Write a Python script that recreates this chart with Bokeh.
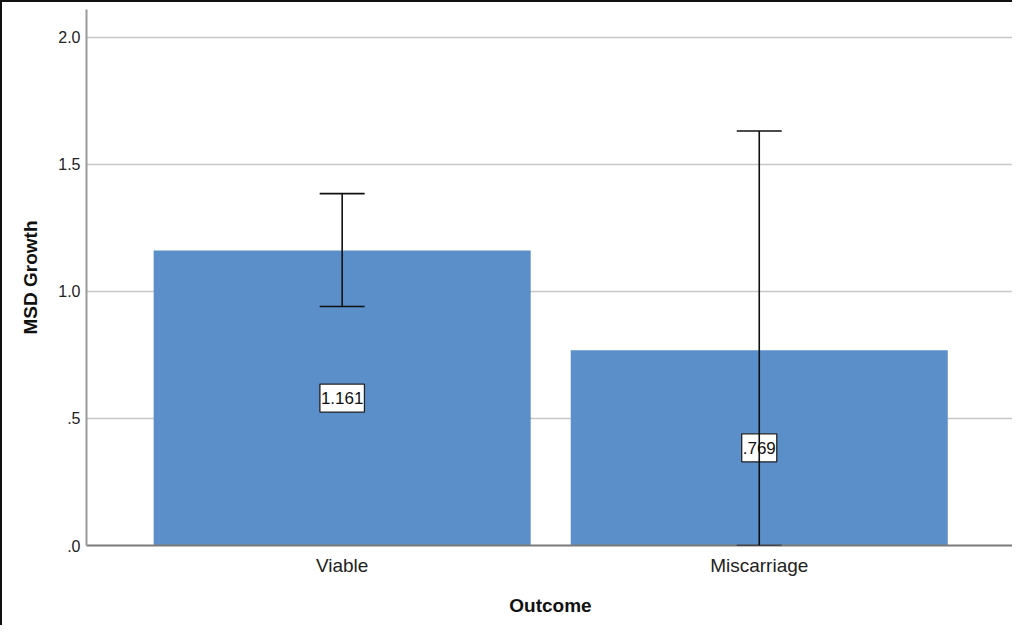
from bokeh.plotting import figure
from bokeh.models import ColumnDataSource, Whisker, TeeHead, FixedTicker, Range1d
from bokeh.core.properties import value
from bokeh.embed import file_html
from bokeh.resources import INLINE

categories = ["Viable", "Miscarriage"]
means = [1.161, 0.769]
err_lower = [0.941, 0.0]
err_upper = [1.385, 1.632]
value_labels = ["1.161", ".769"]
y_ticks = [0.0, 0.5, 1.0, 1.5, 2.0]
y_tick_labels = [".0", ".5", "1.0", "1.5", "2.0"]

xpos = [i + 1 for i in range(len(categories))]
src = ColumnDataSource(dict(
    x=xpos, top=means, lower=err_lower, upper=err_upper,
    mid=[m / 2 for m in means], lab=value_labels,
))

FONT = "Liberation Sans"

p = figure(width=1012, height=625, output_backend="svg", toolbar_location=None,
           x_range=Range1d(0.387, 2.612), y_range=Range1d(0, 2.11),
           min_border_left=84, min_border_right=0, min_border_top=7, min_border_bottom=82)
p.styles = {"border-left": "2px solid #111", "border-top": "2px solid #111"}
p.outline_line_color = None
p.background_fill_color = "white"
p.border_fill_color = "white"

p.vbar(x="x", top="top", width=0.904, source=src, fill_color="#5b8fca", line_color=None)

p.text(x="x", y="mid", text="lab", source=src, text_align="center",
       text_baseline="middle", text_font=value(FONT), text_font_size="17px",
       text_color="#111111", background_fill_color="white",
       border_line_color="#222222", border_line_width=1.3, padding=(1, 1, 8, 8))

w = Whisker(base="x", lower="lower", upper="upper", source=src, level="overlay",
            line_color="#111111", line_width=1.6,
            lower_head=TeeHead(size=45, line_color="#111111", line_width=1.6),
            upper_head=TeeHead(size=45, line_color="#111111", line_width=1.6))
p.add_layout(w)

p.xgrid.grid_line_color = None
p.ygrid.grid_line_color = "#c8c8c8"
p.ygrid.grid_line_width = 1.5
p.ygrid.ticker = FixedTicker(ticks=y_ticks[1:])

p.yaxis.ticker = FixedTicker(ticks=y_ticks)
p.yaxis.major_label_overrides = {t: l for t, l in zip(y_ticks, y_tick_labels)}
p.xaxis.ticker = FixedTicker(ticks=xpos)
p.xaxis.major_label_overrides = {x: c for x, c in zip(xpos, categories)}

for ax in (p.xaxis[0], p.yaxis[0]):
    ax.axis_line_width = 2
    ax.major_tick_line_color = None
    ax.minor_tick_line_color = None
    ax.major_tick_out = 0
    ax.major_tick_in = 0
    ax.minor_tick_out = 0
    ax.major_label_text_font = FONT
    ax.major_label_text_color = "#222222"
    ax.axis_label_text_font = FONT
    ax.axis_label_text_font_style = "bold"
    ax.axis_label_text_color = "#111111"
    ax.axis_label_text_font_size = "19px"

p.yaxis.axis_line_color = "#9a9a9a"
p.xaxis.axis_line_color = "#7a7a7a"
p.xaxis.major_label_text_font_size = "19px"
p.yaxis.major_label_text_font_size = "16px"
p.xaxis.major_label_standoff = 9
p.yaxis.major_label_standoff = 6
p.xaxis.axis_label = "Outcome"
p.yaxis.axis_label = "MSD Growth"
p.xaxis.axis_label_standoff = 16
p.yaxis.axis_label_standoff = 14

open("out.html", "w").write(file_html(p, INLINE))
